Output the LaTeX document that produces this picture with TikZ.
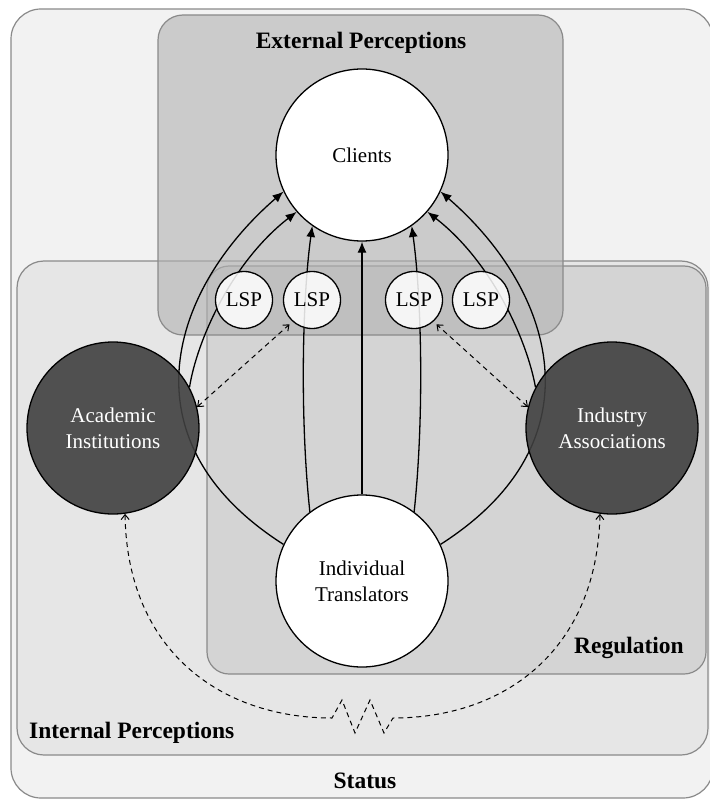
\documentclass[tikz,border=0pt]{standalone}
\usepackage{fontspec}
\setmainfont{Liberation Serif}
\usetikzlibrary{arrows.meta}
\definecolor{outerfill}{HTML}{F2F2F2}
\definecolor{intfill}{HTML}{E6E6E6}
\definecolor{regfill}{HTML}{D4D4D4}
\definecolor{extfill}{HTML}{B2B2B2}
\definecolor{boxline}{HTML}{8A8A8A}
\definecolor{darkfill}{HTML}{404040}
\pgfdeclarelayer{bg}
\pgfdeclarelayer{conn}
\pgfsetlayers{bg,conn,main}
\begin{document}
\begin{tikzpicture}[x=1pt,y=-1pt,
  region/.style={draw=boxline, line width=1.2pt},
  boxlabel/.style={font=\fontsize{23.5}{28}\selectfont\bfseries, inner sep=0pt},
  bigcirc/.style={circle, draw=black, line width=1.3pt, minimum size=172pt, inner sep=0pt, align=center, font=\fontsize{21}{26}\selectfont},
  whitecirc/.style={bigcirc, fill=white},
  darkcirc/.style={bigcirc, fill=darkfill, fill opacity=0.9, text opacity=1, text=white},
  lspcirc/.style={circle, draw=black, line width=1.3pt, fill=white, fill opacity=0.85, text opacity=1, minimum size=57pt, inner sep=0pt, font=\fontsize{21}{26}\selectfont},
  flow/.style={line width=1.3pt, -{Latex[length=11pt,width=9pt]}},
  link/.style={line width=1pt, dash pattern=on 5pt off 4pt, {Straight Barb[length=5pt,width=8pt]}-{Straight Barb[length=5pt,width=8pt]}}
]
\useasboundingbox (0,0) rectangle (709,802);

% regions
\begin{pgfonlayer}{bg}
\draw[region, fill=outerfill, rounded corners=30pt] (11,9) rectangle (713,798);
\draw[region, fill=intfill, rounded corners=27pt] (17,261) rectangle (708,755);
\draw[region, fill=regfill, rounded corners=22pt] (207,266) rectangle (706,674);
\draw[region, fill=extfill, fill opacity=0.6, rounded corners=25pt] (158,15) rectangle (563,335);
\end{pgfonlayer}

% labels
\node[boxlabel, anchor=base] (extlabel) at (361,49) {External Perceptions};
\node[boxlabel, anchor=base east] (reglabel) at (684,653) {Regulation};
\node[boxlabel, anchor=base west] (intlabel) at (29,738) {Internal Perceptions};
\node[boxlabel, anchor=base] (statuslabel) at (365,788) {Status};

% actors
\node[whitecirc] (C) at (362,155) {Clients};
\node[whitecirc] (IT) at (362,581) {Individual\\Translators};
\node[darkcirc] (Ac) at (113,428) {Academic\\Institutions};
\node[darkcirc] (In) at (612,428) {Industry\\Associations};
\node[lspcirc] (L1) at (244,300) {LSP};
\node[lspcirc] (L2) at (312,300) {LSP};
\node[lspcirc] (L3) at (414,300) {LSP};
\node[lspcirc] (L4) at (481,300) {LSP};

% connectors
\begin{pgfonlayer}{conn}
\draw[flow] (IT.90) -- (C.-90);
\draw[flow] (IT.127) .. controls (300,420) and (302,300) .. (C.235);
\draw[flow] (IT.53) .. controls (424,420) and (422,300) .. (C.305);
\draw[flow] (IT.155) .. controls (120,440) and (172,288) .. (C.205);
\draw[flow] (IT.25) .. controls (604,440) and (552,288) .. (C.335);
\draw[flow] (Ac.28) .. controls (197,340) and (232,262) .. (C.221);
\draw[flow] (In.152) .. controls (527,340) and (492,262) .. (C.319);
\draw[link, shorten >=4pt] (Ac.14) -- (L2.228);
\draw[link, shorten >=4pt] (In.166) -- (L3.-48);
\draw[link] (Ac.-82) .. controls (127,650) and (220,718) .. (332,718)
  -- (342,700) -- (355,733) -- (370,700) -- (384,733) -- (393,718)
  .. controls (505,718) and (597,650) .. (In.-98);
\end{pgfonlayer}
\end{tikzpicture}
\end{document}
